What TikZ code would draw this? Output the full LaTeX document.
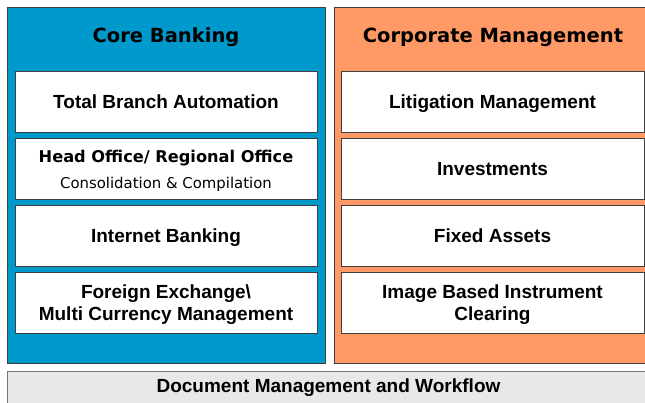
\documentclass[tikz,border=0pt]{standalone}
\usepackage{fontspec}
\setmainfont{Liberation Sans}
\newfontfamily\verd{DejaVu Sans}

\definecolor{coreblue}{RGB}{0,153,204}
\definecolor{corporange}{RGB}{255,153,102}
\definecolor{docgray}{RGB}{232,232,232}
\definecolor{edge}{RGB}{64,64,64}

\begin{document}
\begin{tikzpicture}[x=1pt,y=-1pt,line width=0.8pt,
	item/.style={draw=edge,fill=white,minimum width=302pt,minimum height=61pt,
		inner sep=0pt,text depth=0pt,align=center,font=\bfseries\fontsize{19}{22}\selectfont},
	title/.style={font=\verd\bfseries\fontsize{19.5}{22}\selectfont}]
\useasboundingbox (0,0) rectangle (645,402);

\fill[white] (0,0) rectangle (645,402);
\draw[edge,fill=coreblue] (7,7) rectangle (325,363);
\draw[edge,fill=corporange] (334,7) rectangle (652,363);
\draw[black!55,fill=docgray] (7,371) rectangle (652,410);

\node[title] (core) at (166,37) {Core Banking};
\node[title] (corp) at (493,37) {Corporate Management};

\node[item] (tba) at (166,101.5) {Total Branch Automation};
\node[item] (ho) at (166,168.5) {};
\node[font=\verd\bfseries\fontsize{16.2}{19}\selectfont] (hot) at (166,158) {Head Office/ Regional Office};
\node[font=\verd\fontsize{14.9}{17}\selectfont] (hos) at (166,184.5) {Consolidation \& Compilation};
\node[item] (ib) at (166,235.5) {Internet Banking};
\node[item] (fx) at (166,303) {Foreign Exchange\textbackslash\\Multi Currency Management};

\node[item,minimum width=303pt] (lit) at (492.5,101.5) {Litigation Management};
\node[item,minimum width=303pt] (inv) at (492.5,168.5) {Investments};
\node[item,minimum width=303pt] (fa) at (492.5,235.5) {Fixed Assets};
\node[item,minimum width=303pt] (ibic) at (492.5,303) {Image Based Instrument\\Clearing};

\node[font=\bfseries\fontsize{19}{22}\selectfont] (dmw) at (328.5,388) {Document Management and Workflow};

\end{tikzpicture}
\end{document}
